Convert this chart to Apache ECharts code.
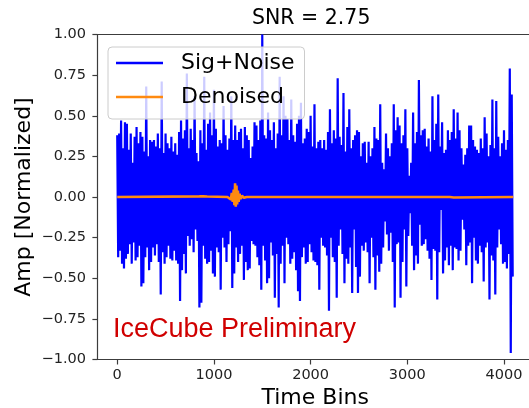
<!DOCTYPE html>
<html>
<head>
<meta charset="utf-8">
<script src="https://cdn.jsdelivr.net/npm/echarts@6/dist/echarts.min.js"></script>
<style>
html,body{margin:0;padding:0;background:#fff;}
#chart{width:529px;height:408px;}
</style>
</head>
<body>
<div id="chart"></div>
<script>
// ---- data ----
const titleText = 'SNR = 2.75';
const seriesNames = ['Sig+Noise', 'Denoised'];
const binStep = 10; // time-bin spacing of the sampled peaks
// positive excursions (bins 0, 20, 40, ...)
const upperPeaks = [
0.38,0.39,0.47,0.30,0.46,0.45,0.29,0.39,0.21,0.37,
0.43,0.33,0.40,0.37,0.28,0.68,0.25,0.35,0.34,0.35,
0.31,0.39,0.30,0.71,0.27,0.39,0.33,0.30,0.37,0.28,
0.33,0.26,0.40,0.47,0.36,0.41,0.76,0.30,0.42,0.35,
0.62,0.27,0.22,0.41,0.33,0.74,0.29,0.45,0.52,0.38,
0.66,0.42,0.31,0.35,0.33,0.56,0.38,0.29,0.36,0.62,
0.35,0.44,0.35,0.40,0.42,0.30,0.43,0.38,0.35,0.24,
0.31,0.46,0.44,0.35,0.47,1.00,0.38,0.36,0.52,0.41,
0.35,0.46,0.30,0.39,0.74,0.38,0.62,0.50,0.48,0.35,
0.60,0.38,0.34,0.45,0.50,0.58,0.33,0.36,0.42,0.40,
0.50,0.31,0.57,0.30,0.34,0.35,0.30,0.35,0.29,0.40,
0.54,0.33,0.41,0.36,0.73,0.37,0.32,0.64,0.28,0.43,
0.54,0.30,0.35,0.38,0.41,0.40,0.25,0.33,0.34,0.21,
0.34,0.25,0.30,0.43,0.36,0.35,0.57,0.21,0.17,0.39,
0.30,0.25,0.33,0.57,0.41,0.49,0.44,0.33,0.38,0.54,
0.30,0.13,0.21,0.52,0.33,0.40,0.72,0.38,0.41,0.42,
0.31,0.36,0.28,0.62,0.35,0.45,0.63,0.31,0.46,0.27,
0.29,0.41,0.35,0.40,0.54,0.36,0.52,0.41,0.30,0.20,
0.26,0.30,0.44,0.44,0.35,0.31,0.29,0.27,0.36,0.30,
0.49,0.39,0.25,0.32,0.60,0.30,0.59,0.37,0.25,0.33,
0.41,0.29,0.35,0.79,0.63
];
// negative excursions (bins 10, 30, 50, ...)
const lowerPeaks = [
-0.37,-0.33,-0.41,-0.44,-0.38,-0.35,-0.29,-0.41,-0.28,-0.39,
-0.37,-0.30,-0.55,-0.53,-0.37,-0.31,-0.45,-0.40,-0.31,-0.36,
-0.29,-0.40,-0.60,-0.34,-0.41,-0.37,-0.30,-0.38,-0.39,-0.33,
-0.39,-0.41,-0.64,-0.45,-0.35,-0.47,-0.24,-0.30,-0.26,-0.34,
-0.20,-0.27,-0.68,-0.65,-0.30,-0.38,-0.41,-0.40,-0.33,-0.47,
-0.49,-0.31,-0.34,-0.57,-0.25,-0.31,-0.40,-0.29,-0.21,-0.56,
-0.47,-0.31,-0.40,-0.35,-0.30,-0.51,-0.40,-0.45,-0.44,-0.27,
-0.29,-0.30,-0.37,-0.42,-0.57,-0.30,-0.39,-0.53,-0.50,-0.28,
-0.36,-0.62,-0.35,-0.68,-0.41,-0.30,-0.53,-0.25,-0.29,-0.41,
-0.38,-0.34,-0.45,-0.58,-0.64,-0.37,-0.31,-0.41,-0.40,-0.29,
-0.34,-0.39,-0.40,-0.42,-0.57,-0.25,-0.30,-0.31,-0.36,-0.70,
-0.25,-0.37,-0.40,-0.62,-0.30,-0.20,-0.35,-0.53,-0.38,-0.41,
-0.31,-0.59,-0.20,-0.43,-0.59,-0.49,-0.30,-0.33,-0.28,-0.34,
-0.53,-0.25,-0.37,-0.57,-0.36,-0.46,-0.41,-0.31,-0.15,-0.23,
-0.33,-0.22,-0.40,-0.68,-0.29,-0.28,-0.62,-0.40,-0.20,-0.55,
-0.24,-0.10,-0.30,-0.45,-0.36,-0.41,-0.17,-0.30,-0.29,-0.26,
-0.33,-0.38,-0.51,-0.32,-0.33,-0.63,-0.34,-0.08,-0.47,-0.39,
-0.31,-0.42,-0.30,-0.45,-0.31,-0.32,-0.39,-0.33,-0.14,-0.20,
-0.42,-0.30,-0.28,-0.53,-0.25,-0.39,-0.41,-0.30,-0.34,-0.52,
-0.31,-0.28,-0.63,-0.36,-0.39,-0.60,-0.31,-0.20,-0.29,-0.41,
-0.40,-0.44,-0.35,-0.96,-0.49
];
// denoised trace: bins and values
const denoisedBins = [0, 850, 870, 890, 910, 930, 950, 1140, 1160, 1175, 1185, 1195, 1205, 1212, 1219, 1226, 1233, 1240, 1248, 1256, 1265, 1275, 1290, 1310, 1340, 3080, 3100, 3120, 3440, 3460, 3480, 3500, 4095];
const denoisedVals = [0, 0.004, -0.004, 0.005, -0.004, 0.003, 0, 0, 0.012, -0.015, 0.025, -0.03, 0.045, -0.05, 0.085, -0.06, 0.07, -0.045, 0.04, -0.03, 0.02, -0.012, 0.008, -0.005, 0, 0, 0.003, 0, 0, 0.003, -0.003, 0, 0];
const xTickValues = [0, 1000, 2000, 3000, 4000];
const xLabel = 'Time Bins';
const yLabel = 'Amp [Normalized]';
const watermark = 'IceCube Preliminary';

// ---- build series tables ----
const sigData = [];
for (let i = 0; i < upperPeaks.length; i++) {
  sigData.push([2 * i * binStep, upperPeaks[i]]);
  if (i < lowerPeaks.length) sigData.push([(2 * i + 1) * binStep, lowerPeaks[i]]);
}
const denData = denoisedBins.map((b, i) => [b, denoisedVals[i]]);

const FONT = 'DejaVu Sans';
const SPINE = '#3c3c3c';
const chart = echarts.init(document.getElementById('chart'), null, {renderer: 'canvas'});
chart.setOption({
  animation: false,
  backgroundColor: '#ffffff',
  title: [
    {text: titleText, left: 252, top: 7, padding: 0,
     textStyle: {fontFamily: FONT, fontSize: 20.5, fontWeight: 'normal', color: '#000', lineHeight: 24}},
    {text: watermark, left: 113, top: 316, padding: 0, z: 10,
     textStyle: {fontFamily: 'Liberation Sans', fontSize: 27, fontWeight: 'normal', color: '#d00000', lineHeight: 27}}
  ],
  grid: {left: 97.4, right: -4, top: 34.5, bottom: 48.5, show: false,
         outerBoundsMode: 'none', containLabel: false},
  legend: {
    data: seriesNames.map(n => ({name: n, icon: 'rect'})),
    orient: 'vertical', left: 108, top: 47,
    padding: [3, 10, 9, 8], itemGap: 8, itemWidth: 47, itemHeight: 2.4,
    backgroundColor: 'rgba(255,255,255,0.8)', borderColor: '#cccccc', borderWidth: 1, borderRadius: 4,
    textStyle: {fontFamily: FONT, fontSize: 22, color: '#000', lineHeight: 26, padding: [0, 0, 0, 13]},
    z: 5
  },
  xAxis: [{
    type: 'value', min: -205, max: 4300, position: 'bottom',
    name: xLabel, nameLocation: 'middle', nameGap: 25.5, nameMoveOverlap: false,
    nameTextStyle: {fontFamily: FONT, fontSize: 22, color: '#000', lineHeight: 26},
    axisLine: {show: true, onZero: false, lineStyle: {color: SPINE, width: 1.2}},
    axisTick: {show: true, customValues: xTickValues, length: 5, lineStyle: {color: SPINE, width: 1.2}},
    axisLabel: {customValues: xTickValues, margin: 8, fontFamily: FONT, fontSize: 14.5, color: '#222',
      formatter: v => String(v)},
    splitLine: {show: false}
  }, {
    type: 'value', min: -205, max: 4300, position: 'top',
    axisLine: {show: true, onZero: false, lineStyle: {color: SPINE, width: 1.2}},
    axisTick: {show: false}, axisLabel: {show: false}, splitLine: {show: false}
  }],
  yAxis: [{
    type: 'value', min: -1, max: 1, interval: 0.25, position: 'left',
    name: yLabel, nameLocation: 'middle', nameGap: 60, nameRotate: 90, nameMoveOverlap: false,
    nameTextStyle: {fontFamily: FONT, fontSize: 22, color: '#000', lineHeight: 26},
    axisLine: {show: true, onZero: false, lineStyle: {color: SPINE, width: 1.2}},
    axisTick: {show: true, length: 5, lineStyle: {color: SPINE, width: 1.2}},
    axisLabel: {margin: 11.4, fontFamily: FONT, fontSize: 14.5, color: '#222',
      formatter: v => (v < 0 ? '\u2212' : '') + Math.abs(v).toFixed(2)},
    splitLine: {show: false}
  }, {
    type: 'value', min: -1, max: 1, position: 'right',
    axisLine: {show: true, onZero: false, lineStyle: {color: SPINE, width: 1.2}},
    axisTick: {show: false}, axisLabel: {show: false}, splitLine: {show: false}
  }],
  series: [
    {name: seriesNames[0], type: 'line', data: sigData, symbol: 'none', sampling: null,
     lineStyle: {color: '#0000ff', width: 2.2, join: 'bevel'}, itemStyle: {color: '#0000ff'}, z: 2, clip: true},
    {name: seriesNames[1], type: 'line', data: denData, symbol: 'none',
     lineStyle: {color: '#ff8a10', width: 2.6}, itemStyle: {color: '#ff8a10'}, z: 3, clip: true}
  ]
});
</script>
</body>
</html>
